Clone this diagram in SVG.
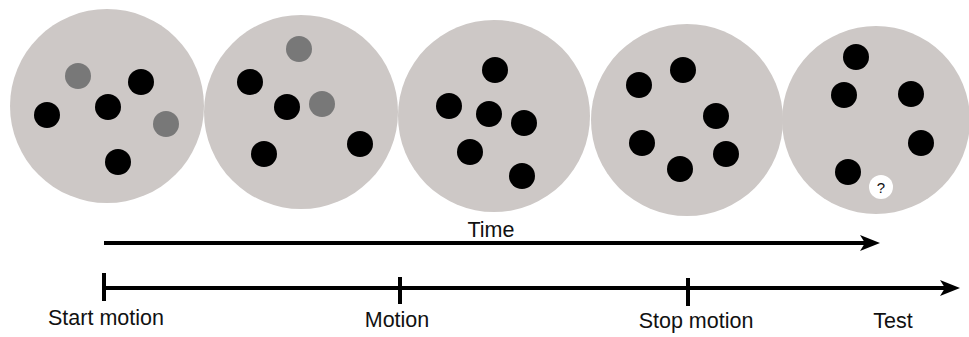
<svg xmlns="http://www.w3.org/2000/svg" width="969" height="337" viewBox="0 0 969 337">
<style>
.disc{fill:#cdc8c6}
.b{fill:#000}
.g{fill:#787878}
.w{fill:#fff}
.ax{stroke:#000;stroke-width:4;fill:none}
.tk{stroke:#000;stroke-width:4}
text{font-family:"Liberation Sans",Arial,sans-serif;font-size:21.5px;fill:#111;text-anchor:middle}
</style>
<defs>
<marker id="ah" viewBox="0 0 20 16" refX="6" refY="8" markerWidth="20" markerHeight="16" markerUnits="userSpaceOnUse" orient="auto">
<path d="M0,0 L20,8 L0,16 L5,8 z" fill="#000"/>
</marker>
</defs>
<rect width="969" height="337" fill="#fff"/>
<g id="frame1">
<circle class="disc" cx="107" cy="106" r="97"/>
<circle class="g" cx="78" cy="76" r="13"/>
<circle class="b" cx="141" cy="82" r="13"/>
<circle class="b" cx="108" cy="107" r="13"/>
<circle class="b" cx="47" cy="115" r="13"/>
<circle class="g" cx="166" cy="124" r="13"/>
<circle class="b" cx="118" cy="162" r="13"/>
</g>
<g id="frame2">
<circle class="disc" cx="301" cy="112" r="97"/>
<circle class="g" cx="299" cy="49" r="13"/>
<circle class="b" cx="250" cy="82" r="13"/>
<circle class="b" cx="287" cy="107" r="13"/>
<circle class="g" cx="322" cy="104" r="13"/>
<circle class="b" cx="264" cy="154" r="13"/>
<circle class="b" cx="360" cy="144" r="13"/>
</g>
<g id="frame3">
<circle class="disc" cx="494" cy="116" r="96"/>
<circle class="b" cx="495" cy="70" r="13"/>
<circle class="b" cx="449" cy="106" r="13"/>
<circle class="b" cx="489" cy="114" r="13"/>
<circle class="b" cx="524" cy="123" r="13"/>
<circle class="b" cx="470" cy="152" r="13"/>
<circle class="b" cx="522" cy="176" r="13"/>
</g>
<g id="frame4">
<circle class="disc" cx="687" cy="120" r="96"/>
<circle class="b" cx="683" cy="70" r="13"/>
<circle class="b" cx="639" cy="85" r="13"/>
<circle class="b" cx="716" cy="116" r="13"/>
<circle class="b" cx="642" cy="143" r="13"/>
<circle class="b" cx="726" cy="154" r="13"/>
<circle class="b" cx="680" cy="169" r="13"/>
</g>
<g id="frame5">
<circle class="disc" cx="876" cy="120" r="94"/>
<circle class="b" cx="856" cy="57" r="13"/>
<circle class="b" cx="844" cy="95" r="13"/>
<circle class="b" cx="911" cy="94" r="13"/>
<circle class="b" cx="921" cy="143" r="13"/>
<circle class="b" cx="848" cy="172" r="13"/>
<circle class="w" cx="881" cy="187" r="12"/>
<text x="881" y="193" style="font-size:15px">?</text>
</g>
<g id="connectors">
<line class="ax" x1="104" y1="243" x2="866" y2="243" marker-end="url(#ah)"/>
<line class="ax" x1="104" y1="288" x2="946" y2="288" marker-end="url(#ah)"/>
<line class="tk" x1="104" y1="273" x2="104" y2="301"/>
<line class="tk" x1="400" y1="277" x2="400" y2="304"/>
<line class="tk" x1="688" y1="278" x2="688" y2="306"/>
</g>
<g id="labels">
<text x="491" y="237">Time</text>
<text x="106" y="325">Start motion</text>
<text x="397" y="327">Motion</text>
<text x="696" y="328">Stop motion</text>
<text x="893" y="328">Test</text>
</g>
</svg>
